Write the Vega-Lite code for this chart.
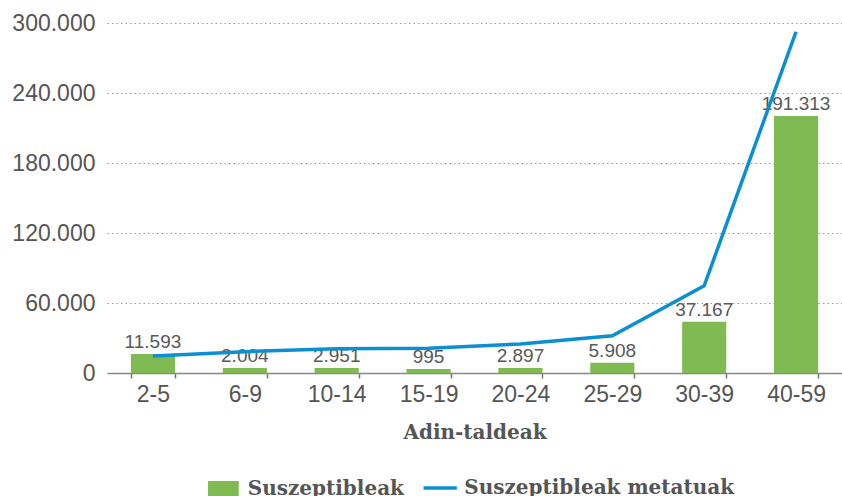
{
  "$schema": "https://vega.github.io/schema/vega-lite/v6.json",
  "width": 735,
  "height": 350,
  "autosize": {"type": "none"},
  "padding": {"left": 107, "top": 23, "right": 0, "bottom": 123},
  "background": "white",
  "config": {"view": {"stroke": null}, "font": "Liberation Sans"},
  "data": {
    "values": [
      {"group": "2-5", "bar": 16300, "line": 14600, "label": "11.593"},
      {"group": "6-9", "bar": 4300, "line": 18300, "label": "2.004"},
      {"group": "10-14", "bar": 4300, "line": 20800, "label": "2.951"},
      {"group": "15-19", "bar": 3400, "line": 21200, "label": "995"},
      {"group": "20-24", "bar": 4300, "line": 24900, "label": "2.897"},
      {"group": "25-29", "bar": 8800, "line": 32000, "label": "5.908"},
      {"group": "30-39", "bar": 44000, "line": 74800, "label": "37.167"},
      {"group": "40-59", "bar": 220300, "line": 292500, "label": "191.313"}
    ]
  },
  "encoding": {
    "x": {
      "field": "group",
      "type": "ordinal",
      "sort": null,
      "scale": {"paddingInner": 0.52, "paddingOuter": 0.26},
      "axis": {
        "title": "Adin-taldeak",
        "labelAngle": 0,
        "grid": false,
        "tickBand": "extent",
        "tickSize": 5,
        "tickColor": "#777",
        "tickWidth": 1.5,
        "domainColor": "#888",
        "domainWidth": 1.5,
        "labelPadding": 5,
        "labelFontSize": 23,
        "labelColor": "#555",
        "titleFont": "DejaVu Serif",
        "titleFontWeight": "bold",
        "titleFontSize": 20,
        "titleColor": "#555",
        "titleBaseline": "alphabetic",
        "titleY": 65.5
      }
    }
  },
  "layer": [
    {
      "mark": {"type": "bar"},
      "encoding": {
        "y": {
          "field": "bar",
          "type": "quantitative",
          "title": null,
          "scale": {"domain": [0, 300000], "nice": false},
          "axis": {
            "values": [0, 60000, 120000, 180000, 240000, 300000],
            "domain": false,
            "ticks": false,
            "labelPadding": 12,
            "labelFontSize": 23,
            "labelColor": "#555",
            "labelExpr": "replace(format(datum.value, ','), ',', '.')",
            "gridColor": "#999",
            "gridDash": [1.5, 3],
            "gridWidth": 1.2
          }
        },
        "fill": {
          "datum": "Suszeptibleak",
          "type": "nominal",
          "scale": {"range": ["#7fba52"]},
          "legend": {
            "orient": "none",
            "legendX": 106.4,
            "legendY": 456,
            "title": null,
            "padding": 0,
            "symbolType": "M-1.92,-1H1.92V1H-1.92Z",
            "symbolSize": 256,
            "symbolStrokeWidth": 0,
            "symbolOpacity": 1,
            "labelFont": "DejaVu Serif",
            "labelFontWeight": "bold",
            "labelFontSize": 20,
            "labelColor": "#555",
            "labelLimit": 400,
            "labelOffset": 14.3
          }
        }
      }
    },
    {
      "mark": {"type": "text", "dy": -6, "baseline": "alphabetic", "fontSize": 19, "color": "#595959"},
      "encoding": {
        "y": {"field": "bar", "type": "quantitative", "title": null},
        "text": {"field": "label"}
      }
    },
    {
      "mark": {"type": "line", "strokeWidth": 3.5},
      "encoding": {
        "y": {"field": "line", "type": "quantitative", "title": null},
        "stroke": {
          "datum": "Suszeptibleak metatuak",
          "type": "nominal",
          "scale": {"range": ["#0a8fd2"]},
          "legend": {
            "orient": "none",
            "legendX": 314.7,
            "legendY": 446.4,
            "title": null,
            "padding": 0,
            "symbolType": "stroke",
            "symbolSize": 1109,
            "symbolStrokeWidth": 3.5,
            "labelFont": "DejaVu Serif",
            "labelFontWeight": "bold",
            "labelFontSize": 20,
            "labelColor": "#555",
            "labelLimit": 400,
            "labelOffset": 5.5
          }
        }
      }
    }
  ]
}
